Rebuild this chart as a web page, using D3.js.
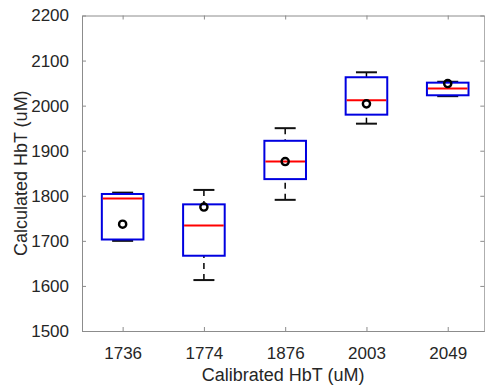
<!DOCTYPE html>
<html>
<head>
<meta charset="utf-8">
<script src="https://cdn.jsdelivr.net/npm/d3@7"></script>
<style>
  body { margin: 0; background: #fff; }
  svg { display: block; font-family: "Liberation Sans", Arial, sans-serif; }
</style>
</head>
<body>
<div id="chart"></div>
<script>
// calibrated HbT groups
const categories = ["1736", "1774", "1876", "2003", "2049"];
const whiskerHigh = [1807, 1813, 1950, 2074, 2053];
const q3 = [1804, 1781, 1922, 2063, 2051];
const medians = [1794, 1734, 1876, 2012, 2038];
const q1 = [1703, 1667, 1837, 1980, 2023];
const whiskerLow = [1700, 1613, 1791, 1960, 2021];
const means = [1737, 1775, 1876, 2004, 2049];
const yTicks = [1500, 1600, 1700, 1800, 1900, 2000, 2100, 2200];

const width = 485;
const height = 391;
const margin = { top: 15.5, right: 0.7, bottom: 60, left: 82 };

const data = categories.map((c, i) => ({
  name: c,
  pos: i + 1,
  lo: whiskerLow[i],
  q1: q1[i],
  med: medians[i],
  q3: q3[i],
  hi: whiskerHigh[i],
  mean: means[i],
}));

const x = d3
  .scaleLinear()
  .domain([0.5, 5.45])
  .range([margin.left, width - margin.right]);

const y = d3
  .scaleLinear()
  .domain([1500, 2200])
  .range([height - margin.bottom, margin.top]);

const boxHalf = 20.8;
const capHalf = 10.5;
const axisColor = "#8c8c8c";
const textColor = "#262626";

const svg = d3
  .select("#chart")
  .append("svg")
  .attr("width", width)
  .attr("height", height);

// axes (box on, ticks inside)
const x0 = margin.left;
const x1 = width - margin.right;
const y0 = height - margin.bottom;
const y1 = margin.top;

svg
  .append("g")
  .attr("transform", `translate(0,${y0})`)
  .call(
    d3.axisBottom(x)
      .tickValues(data.map((d) => d.pos))
      .tickFormat((d) => categories[d - 1])
      .tickSizeInner(-4)
      .tickSizeOuter(0)
      .tickPadding(16),
  )
  .call((g) => g.select(".domain").attr("stroke", axisColor))
  .call((g) => g.selectAll(".tick line").attr("stroke", axisColor))
  .call((g) =>
    g.selectAll(".tick text").attr("fill", textColor).attr("font-size", 17),
  );

svg
  .append("g")
  .attr("transform", `translate(0,${y1})`)
  .call(
    d3.axisTop(x)
      .tickValues(data.map((d) => d.pos))
      .tickFormat("")
      .tickSizeInner(-4)
      .tickSizeOuter(0),
  )
  .call((g) => g.select(".domain").attr("stroke", axisColor))
  .call((g) => g.selectAll(".tick line").attr("stroke", axisColor));

svg
  .append("g")
  .attr("transform", `translate(${x0},0)`)
  .call(
    d3.axisLeft(y)
      .tickValues(yTicks)
      .tickFormat(d3.format("d"))
      .tickSizeInner(-4)
      .tickSizeOuter(0)
      .tickPadding(13),
  )
  .call((g) => g.select(".domain").attr("stroke", axisColor))
  .call((g) => g.selectAll(".tick line").attr("stroke", axisColor))
  .call((g) =>
    g.selectAll(".tick text").attr("fill", textColor).attr("font-size", 17),
  );

svg
  .append("g")
  .attr("transform", `translate(${x1},0)`)
  .call(
    d3.axisRight(y)
      .tickValues(yTicks)
      .tickFormat("")
      .tickSizeInner(-4)
      .tickSizeOuter(0),
  )
  .call((g) => g.select(".domain").attr("stroke", axisColor))
  .call((g) => g.selectAll(".tick line").attr("stroke", axisColor));

// boxes
const gBox = svg
  .selectAll(".box")
  .data(data)
  .join("g")
  .attr("class", "box");

// whiskers, dashed like matlab
gBox
  .append("line")
  .attr("x1", (d) => x(d.pos))
  .attr("x2", (d) => x(d.pos))
  .attr("y1", (d) => y(d.hi))
  .attr("y2", (d) => y(d.q3))
  .attr("stroke", "#000")
  .attr("stroke-width", 1.5)
  .attr("stroke-dasharray", "6,5");

gBox
  .append("line")
  .attr("x1", (d) => x(d.pos))
  .attr("x2", (d) => x(d.pos))
  .attr("y1", (d) => y(d.lo))
  .attr("y2", (d) => y(d.q1))
  .attr("stroke", "#000")
  .attr("stroke-width", 1.5)
  .attr("stroke-dasharray", "6,5");

gBox
  .selectAll(".cap")
  .data((d) => [d.lo, d.hi].map((v) => ({ pos: d.pos, v })))
  .join("line")
  .attr("class", "cap")
  .attr("x1", (d) => x(d.pos) - capHalf)
  .attr("x2", (d) => x(d.pos) + capHalf)
  .attr("y1", (d) => y(d.v))
  .attr("y2", (d) => y(d.v))
  .attr("stroke", "#111")
  .attr("stroke-width", 2);

gBox
  .append("rect")
  .attr("x", (d) => x(d.pos) - boxHalf)
  .attr("width", boxHalf * 2)
  .attr("y", (d) => y(d.q3))
  .attr("height", (d) => y(d.q1) - y(d.q3))
  .attr("fill", "none")
  .attr("stroke", "#0000e0")
  .attr("stroke-width", 2);

gBox
  .append("line")
  .attr("x1", (d) => x(d.pos) - boxHalf + 1)
  .attr("x2", (d) => x(d.pos) + boxHalf - 1)
  .attr("y1", (d) => y(d.med))
  .attr("y2", (d) => y(d.med))
  .attr("stroke", "#ff0000")
  .attr("stroke-width", 2);

// means
gBox
  .append("circle")
  .attr("cx", (d) => x(d.pos))
  .attr("cy", (d) => y(d.mean))
  .attr("r", 3.6)
  .attr("fill", "none")
  .attr("stroke", "#000")
  .attr("stroke-width", 2.4);

// labels
svg
  .append("text")
  .attr("x", (x0 + x1) / 2)
  .attr("y", 381)
  .attr("text-anchor", "middle")
  .attr("font-size", 18)
  .attr("fill", textColor)
  .text("Calibrated HbT (uM)");

svg
  .append("text")
  .attr("transform", `translate(27,${(y0 + y1) / 2}) rotate(-90)`)
  .attr("text-anchor", "middle")
  .attr("font-size", 18)
  .attr("fill", textColor)
  .text("Calculated HbT (uM)");
</script>
</body>
</html>
